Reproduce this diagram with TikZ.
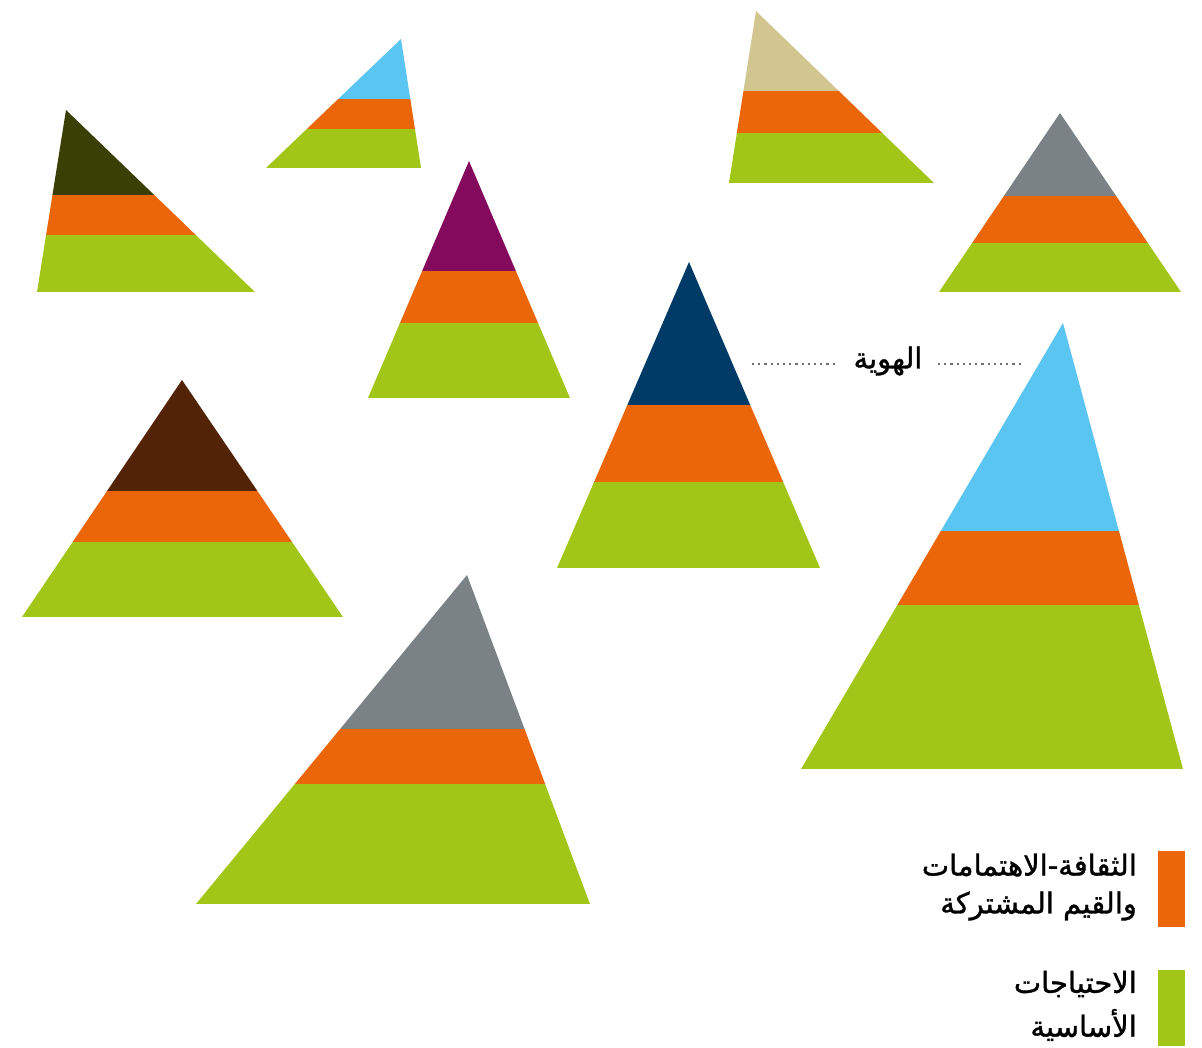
\documentclass[tikz,border=0pt]{standalone}
\usepackage{fontspec}
\newfontfamily\arabicfont[Script=Arabic,FakeBold=1.2]{DejaVu Sans}
\TeXXeTstate=1
\definecolor{cgreen}{HTML}{A2C617}
\definecolor{corange}{HTML}{EA6608}
\definecolor{colive}{HTML}{3A3F06}
\definecolor{cblue}{HTML}{5BC5F2}
\definecolor{ctan}{HTML}{D2C690}
\definecolor{cgray}{HTML}{7A8286}
\definecolor{cpurple}{HTML}{830A5C}
\definecolor{cnavy}{HTML}{003A66}
\definecolor{cbrown}{HTML}{532308}
\definecolor{cdot}{HTML}{707070}
\newcommand{\pyr}[9]{%
% #1 apex x, #2 apex y, #3 base left x, #4 base right x, #5 base y, #6 boundary1 y, #7 boundary2 y, #8 top colour, #9 name
\begin{scope}
\clip (#1,#2) -- (#3,#5) -- (#4,#5) -- cycle;
\fill[cgreen] (0,#7) rectangle (1202,#5);
\fill[corange] (0,#6) rectangle (1202,#7);
\fill[#8] (0,#2) rectangle (1202,#6);
\end{scope}
\coordinate (#9) at (#1,#2);
}
\tikzset{
  dotline/.style={cdot, line width=2.2pt, dash pattern=on 2.2pt off 4pt},
  lbl/.style={font=\arabicfont\fontsize{29}{34}\selectfont, text=black, inner sep=0pt},
  legtext/.style={font=\arabicfont\fontsize{29}{36}\selectfont, text=black, inner sep=0pt, align=right, anchor=east}
}
\begin{document}
\begin{tikzpicture}[x=1pt,y=-1pt]
\useasboundingbox (0,0) rectangle (1202,1048);
\pyr{66}{110}{37}{255}{292}{195}{235}{colive}{p1}
\pyr{401}{39}{266}{421}{168}{99}{129}{cblue}{p2}
\pyr{756}{11}{729}{934}{183}{91}{133}{ctan}{p3}
\pyr{1060}{113}{939}{1181}{292}{196}{243}{cgray}{p4}
\pyr{469}{161}{368}{570}{398}{271}{323}{cpurple}{p5}
\pyr{689}{262}{557}{820}{568}{405}{482}{cnavy}{p6}
\pyr{182}{380}{22}{343}{617}{491}{542}{cbrown}{p7}
\pyr{1063}{323}{801}{1183}{769}{531}{605}{cblue}{p8}
\pyr{467}{575}{196}{590}{904}{729}{784}{cgray}{p9}
% identity label
\node[lbl] (idlbl) at (888,361) {\beginR الهوية\endR};
\coordinate (dl1) at (752,364);
\coordinate (dl2) at (836,364);
\coordinate (dr1) at (938,364);
\coordinate (dr2) at (1022,364);
\draw[dotline] (dl1) -- (dl2);
\draw[dotline] (dr1) -- (dr2);
% legend
\fill[corange] (1158,851) rectangle (1185,927);
\fill[cgreen] (1158,970) rectangle (1185,1046);
\node[legtext] (leg1a) at (1137,865) {\beginR الثقافة-الاهتمامات\endR};
\node[legtext] (leg1b) at (1137,906) {\beginR والقيم المشتركة\endR};
\node[legtext] (leg2a) at (1137,984) {\beginR الاحتياجات\endR};
\node[legtext] (leg2b) at (1137,1025) {\beginR الأساسية\endR};
\end{tikzpicture}
\end{document}
